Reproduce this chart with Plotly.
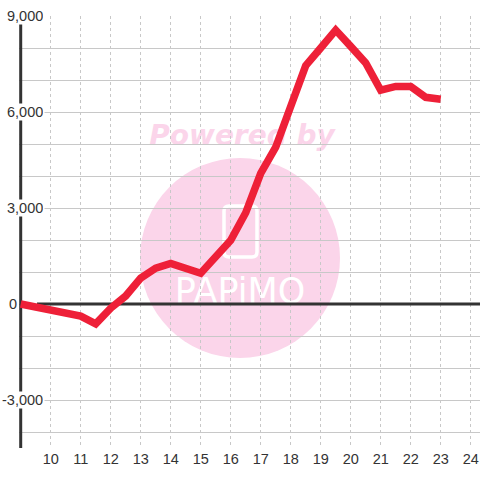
import plotly.graph_objects as go

# ---- data ----
hours = [9, 11, 11.5, 12, 12.5, 13, 13.5, 14, 15, 16, 16.5, 17, 17.5, 18,
         18.5, 19, 19.5, 20, 20.5, 21, 21.5, 22, 22.5, 23]
values = [0, -380, -620, -130, 250, 810, 1120, 1270, 960, 1990, 2850, 4080,
          4900, 6150, 7450, 8000, 8560, 8050, 7530, 6680, 6800, 6800, 6460, 6400]
x_ticks = list(range(10, 25))
y_grid = list(range(-4000, 9001, 1000))
y_label_vals = [-3000, 0, 3000, 6000, 9000]
y_label_text = ["-3,000", "0", "3,000", "6,000", "9,000"]

# ---- layout geometry (page pixels; body margin removed in post_script) ----
W, H = 480, 480
L, T, B, R = 19, 16, 32, 0
PW, PH = W - L - R, H - T - B
PX_PER_X = 30.0
X0 = 9 - 1.7 / PX_PER_X
X1 = X0 + PW / PX_PER_X
Y0, Y1 = -4500, 9000


def xd(px):  # pixel -> data x
    return X0 + (px - L) / PW * (X1 - X0)


def yd(py):  # pixel -> data y
    return Y0 + (T + PH - py) / PH * (Y1 - Y0)


def xp(px):  # pixel -> paper x
    return (px - L) / PW


FONT = "Liberation Sans, Arial, sans-serif"
TXT = "#333333"
PINK = "#fbd5ea"

fig = go.Figure()
fig.add_trace(go.Scatter(x=hours, y=values, mode="lines",
                         line=dict(color="#ee2038", width=7.5),
                         hoverinfo="skip", showlegend=False))

shapes = []
# watermark circle
shapes.append(dict(type="circle", xref="x", yref="y",
                   x0=xd(140), x1=xd(340), y0=yd(358), y1=yd(158),
                   fillcolor=PINK, line=dict(width=0), layer="below"))
# phone outline (rounded rect)
bx0, bx1, by0, by1, r = 224, 257, 206, 257, 5
pts = [
    ("M", bx0 + r, by0), ("L", bx1 - r, by0), ("Q", bx1, by0, bx1, by0 + r),
    ("L", bx1, by1 - r), ("Q", bx1, by1, bx1 - r, by1), ("L", bx0 + r, by1),
    ("Q", bx0, by1, bx0, by1 - r), ("L", bx0, by0 + r), ("Q", bx0, by0, bx0 + r, by0),
]
path = ""
for p in pts:
    s = p[0]
    c = p[1:]
    for i in range(0, len(c), 2):
        s += f" {xd(c[i]):.5f},{yd(c[i+1]):.3f}"
    path += s + " "
path += "Z"
shapes.append(dict(type="path", xref="x", yref="y", path=path,
                   line=dict(color="white", width=3.5), fillcolor="rgba(0,0,0,0)",
                   layer="below"))
# "Powered by" text
shapes.append(dict(type="rect", xref="x", yref="y",
                   x0=xd(140), x1=xd(344), y0=yd(150), y1=yd(116),
                   line=dict(width=0), fillcolor="rgba(0,0,0,0)", layer="below",
                   label=dict(text="Powered by", textposition="middle center",
                              font=dict(family="DejaVu Sans", size=28, color=PINK,
                                        weight="bold", style="italic"))))
# "PAPiMO" text
shapes.append(dict(type="rect", xref="x", yref="y",
                   x0=xd(170), x1=xd(310), y0=yd(304), y1=yd(272),
                   line=dict(width=0), fillcolor="rgba(0,0,0,0)", layer="below",
                   label=dict(text="PAPiMO", textposition="middle center",
                              font=dict(family="DejaVu Sans", size=35,
                                        color="white"))))
# y axis line at x = 9
shapes.append(dict(type="line", xref="x", yref="y",
                   x0=9, x1=9, y0=Y0, y1=Y1,
                   line=dict(color="#333333", width=3), layer="between"))
# zero line
shapes.append(dict(type="line", xref="x", yref="y",
                   x0=xd(37), x1=X1, y0=0, y1=0,
                   line=dict(color="#333333", width=3), layer="between"))

annotations = []
for v, t in zip(y_label_vals, y_label_text):
    if v == 0:
        annotations.append(dict(xref="paper", yref="y", x=xp(7), y=v,
                                text=t, showarrow=False, xanchor="left",
                                yanchor="middle",
                                font=dict(family=FONT, size=14.5, color=TXT)))
    else:
        annotations.append(dict(xref="paper", yref="y", x=xp(45), y=v,
                                text=t, showarrow=False, xanchor="right",
                                yanchor="middle", bgcolor="white", borderpad=1,
                                height=14,
                                font=dict(family=FONT, size=14.5, color=TXT)))

fig.update_layout(
    width=W, height=H,
    margin=dict(l=L, r=R, t=T, b=B, pad=0, autoexpand=False),
    paper_bgcolor="white", plot_bgcolor="white",
    showlegend=False,
    shapes=shapes, annotations=annotations,
    xaxis=dict(range=[X0, X1], tickvals=x_ticks,
               ticktext=[str(v) for v in x_ticks],
               showgrid=True, gridcolor="#c8c8c8", gridwidth=1, griddash="dot",
               zeroline=False, showline=False, ticks="", automargin=False,
               tickfont=dict(family=FONT, size=14.5, color=TXT),
               fixedrange=True),
    yaxis=dict(range=[Y0, Y1], tickvals=y_grid, showticklabels=False,
               showgrid=True, gridcolor="#c8c8c8", gridwidth=1, automargin=False,
               zeroline=False, showline=False, ticks="", fixedrange=True),
)

fig.write_html("out.html", config={"displayModeBar": False},
               post_script="document.body.style.margin='0';"
                           "document.body.style.overflow='hidden';")
